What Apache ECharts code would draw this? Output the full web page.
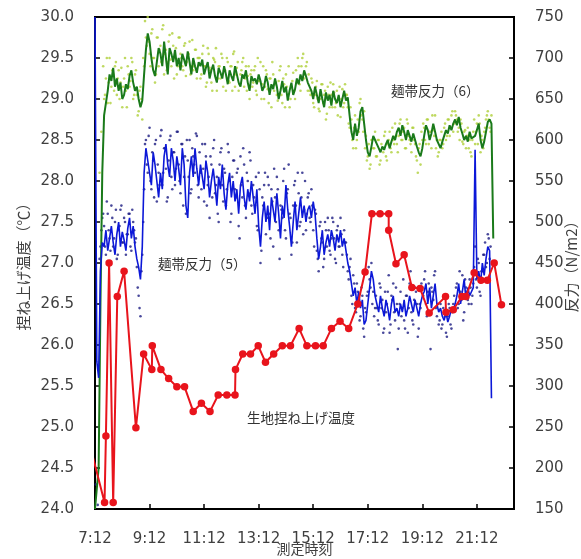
<!doctype html>
<html lang="ja">
<head>
<meta charset="utf-8">
<title>測定時刻と麺帯反力・捏ね上げ温度</title>
<style>
  html, body { margin: 0; padding: 0; background: #fff; }
  #main { width: 581px; height: 559px; }
</style>
</head>
<body>
<div id="main"></div>
<script src="https://cdn.jsdelivr.net/npm/echarts@6/dist/echarts.min.js"></script>
<script>
// 時刻は 7:12 からの経過分で扱う（7:12 = 432分）
var START_MIN = 432;
var STEP = 4;        // 反力データ：4分おき
var DOT_OFFSET = 2;  // 2組目の測定点は2分ずらす

// 生地捏ね上げ温度（左軸）
var tempTimes = ['7:03', '7:33', '7:36', '7:43', '7:52', '8:01', '8:16', '8:42', '8:59', '9:17',
  '9:18', '9:37', '9:54', '10:12', '10:29', '10:48', '11:06', '11:25', '11:43', '12:02',
  '12:20', '12:21', '12:37', '12:54', '13:11', '13:27', '13:45', '14:04', '14:22', '14:41',
  '14:58', '15:17', '15:34', '15:52', '16:11', '16:30', '16:50', '17:06', '17:21', '17:39',
  '17:58', '17:58', '18:14', '18:32', '18:49', '19:07', '19:27', '20:03', '20:04', '20:20',
  '20:39', '20:48', '21:06', '21:21', '21:35', '21:50', '22:06'];
var tempValues = [24.73, 24.08, 24.89, 27.0, 24.08, 26.59, 26.9, 24.99, 25.89, 25.7,
  25.99, 25.7, 25.59, 25.49, 25.49, 25.19, 25.29, 25.19, 25.39, 25.39,
  25.39, 25.7, 25.89, 25.89, 25.99, 25.79, 25.89, 25.99, 25.99, 26.2,
  25.99, 25.99, 25.99, 26.2, 26.29, 26.2, 26.5, 26.89, 27.6, 27.6,
  27.6, 27.4, 26.99, 27.1, 26.7, 26.69, 26.39, 26.59, 26.4, 26.43,
  26.59, 26.59, 26.88, 26.79, 26.79, 27.0, 26.49];

// 麺帯反力（5）線（右軸）
var force5Line = [750, 330, 310, 440, 475,
  470, 490, 465, 480, 495, 475, 460, 485, 500, 470, 488, 478, 465, 492, 505, 480, 495, 470, 455,
  445, 430, 470, 560,
  590, 575, 560, 545, 585, 570, 550, 530, 560, 540, 580, 595, 570, 555, 590, 575, 550, 580, 565, 545,
  590, 570, 520, 505, 560, 580, 555, 590, 565, 545,
  570, 555, 540, 575, 560, 530, 550, 565, 545, 520, 555, 540, 570, 535, 515, 545, 560, 530, 550, 525,
  540, 510, 545, 555, 530, 515, 540, 525, 550, 530,
  510, 540, 495, 470, 505, 525, 500, 520, 490, 530, 515, 500, 535, 510, 480, 520, 505, 545, 515, 495,
  470, 500, 525, 490, 510, 530, 505, 520, 500, 515,
  520, 505, 525, 510, 480, 455, 470, 490, 460, 475, 485, 470, 490, 480, 465, 485, 475, 490, 470, 480,
  465, 450,
  440, 425, 410, 420, 400, 415, 395, 405,
  375, 380, 400, 420, 440, 430, 410,
  400, 390, 410, 395, 385, 405, 395, 380, 400, 410, 390, 395, 385, 400, 390, 405, 385, 395, 410, 400,
  390, 405, 395, 385, 400, 410,
  415, 425, 400, 420, 395, 410, 425, 400, 390, 395,
  385, 380, 390, 378, 385, 395, 390, 400,
  410, 425, 400, 415, 430, 405, 420, 410, 415,
  420, 588, 430,
  440, 425, 450, 435, 455,
  470, 465, 285];

// 麺帯反力（5）測定点：線と同じ時刻
var force5DotsA = [null, null, null, 470, 505,
  495, 460, 510, 480, 520, 470, 500, 455, 490, 515, 475, 505, 460, 485, 510, 465, 500, 475, 445,
  410, 385, 460, 540,
  600, 560, 615, 540, 575, 595, 525, 560, 605, 545, 590, 565, 530, 600, 555, 585, 545, 610, 570, 535,
  595, 555, 510, 575, 600, 540, 580, 560, 605, 530,
  560, 595, 525, 580, 545, 505, 570, 590, 535, 555, 500, 585, 545, 565, 520, 595, 550, 510, 575, 540,
  560, 495, 580, 530, 570, 505, 550, 585, 520, 545,
  520, 495, 560, 450, 530, 545, 485, 555, 510, 540, 470, 530, 555, 490, 520, 505, 565, 480, 540, 510,
  460, 520, 550, 475, 535, 500, 560, 515, 490, 530,
  505, 540, 490, 515, 465, 440, 500, 475, 455, 490, 505, 465, 480, 500, 455, 490, 470, 505, 460, 490,
  475, 440,
  445, 410, 435, 395, 425, 405, 385, 410,
  360, 390, 415, 430, 450, 415, 395,
  395, 375, 420, 405, 370, 390, 415, 365, 410, 425, 380, 400, 370, 415, 395, 380, 410, 365, 425, 390,
  375, 420, 400, 370, 395, 420,
  430, 400, 415, 390, 420, 405, 440, 385, 375, 400,
  375, 390, 365, 385, 395, 370, 400, 395,
  425, 400, 415, 435, 390, 420, 405, 430, 400,
  425, 470, 420,
  450, 410, 440, 460, 445,
  485, 455, null];

// 麺帯反力（5）測定点：2分ずらし
var force5DotsB = [180, 155, 455, 490,
  510, 470, 525, 490, 465, 505, 480, 515, 460, 495, 520, 475, 500, 485, 510, 470, 515, 490, 480,
  420, 395, 440, 500, 595, 570,
  605, 550, 585, 530, 600, 570, 545, 612, 560, 590, 525, 575, 605, 540, 585, 565, 610, 550, 595, 520,
  580, 600, 555, 535, 590, 570, 608, 545,
  585, 540, 565, 595, 520, 555, 580, 530, 600, 545, 510, 570, 590, 525, 560, 540, 585, 500, 555, 575,
  530, 565, 480, 545, 590, 520, 560, 535, 575, 510,
  530, 555, 490, 540, 465, 520, 560, 505, 545, 480, 525, 565, 500, 540, 455, 515, 550, 490, 535, 570,
  505, 475, 545, 520, 560, 495, 530, 485, 550, 510,
  535, 500, 520, 470, 510, 455, 495, 480, 445, 500, 470, 490, 460, 505, 480, 450, 495, 470, 485, 445,
  475, 460,
  430, 455, 400, 425, 390, 415, 380, 420,
  370, 395, 410, 445, 420, 400, 385,
  410, 380, 425, 395, 365, 415, 400, 435, 375, 405, 390, 420, 345, 400, 385, 430, 370, 410, 395, 440,
  380, 405, 415, 360, 400, 425,
  410, 440, 385, 425, 345, 415, 435, 395, 400, 380,
  370, 395, 385, 360, 400, 375, 390, 410,
  420, 395, 440, 405, 380, 430, 415, 400, 420,
  410, 445, 430, 455, 415, 440, 460, 475, 450, 480, 470];

// 麺帯反力（6）線
var force6Line = [150, 150, 200, 400, 560, 630, 645,
  660, 680, 672, 688, 665, 675, 660, 670, 650, 655, 668, 662, 678, 685, 670, 660, 665,
  650, 640, 648, 680, 710, 730, 720, 700,
  685, 678, 695, 712, 705, 690, 720, 700, 680, 712, 705, 695, 710, 690, 700, 685, 705, 698, 690, 708,
  695, 680, 700, 690, 682, 695,
  690, 698, 680, 688, 695, 675, 685, 692, 678, 670, 688, 682, 675, 690, 680, 668, 685, 678, 672, 690,
  680, 670, 665, 680, 675, 685, 670, 660, 678, 672,
  675, 668, 680, 672, 660, 665, 678, 670, 655, 668, 662, 675, 665, 650, 660, 672, 658, 665, 648, 660,
  670, 655, 662, 675, 668, 680, 672, 685, 678, 670,
  668, 660, 650, 665, 655, 645, 662, 650, 640, 658, 648, 655, 642, 660, 650, 645, 655, 640, 650, 660,
  648, 652,
  630, 610, 600, 620, 605, 615, 635, 640,
  620, 600, 585, 580, 592, 605, 600, 595,
  590, 585, 592, 588, 595, 600, 590, 598, 605, 600, 610, 615, 605, 618, 610,
  600, 612, 605, 598, 608, 600, 592, 585, 580, 590,
  605, 618, 612, 600, 608, 620, 610, 600, 595, 590,
  598, 605, 612, 608, 618, 612, 620, 625, 618, 628,
  615, 608, 600, 605, 598, 610, 602, 600,
  605, 612, 620, 600, 590, 598, 610, 622, 625, 620,
  480];

// 麺帯反力（6）測定点：線と同じ時刻（null は点なし）
var force6DotsA = [null, null, null, null, null, 650, 675,
  645, 700, 665, 680, 690, 655, 685, 670, 640, 675, 660, 690, 665, 700, 650, 680, 655,
  635, 665, 625, 690, 725, 750, 705, 730,
  700, 670, 725, 690, 715, 735, 680, 710, 695, 728, 690, 715, 700, 680, 725, 705, 690, 715, 678, 700,
  720, 690, 685, 710, 675, 700,
  675, 705, 690, 665, 712, 688, 670, 700, 695, 660, 690, 675, 700, 685, 660, 695, 670, 690, 705, 665,
  688, 660, 680, 695, 665, 690, 678, 650, 685, 670,
  690, 655, 672, 695, 668, 650, 685, 662, 675, 640, 680, 668, 655, 672, 690, 645, 668, 680, 655, 640,
  665, 682, 650, 670, 690, 660, 700, 675, 690, 660,
  660, 675, 645, 655, 672, 638, 650, 668, 655, 625, 665, 640, 655, 668, 640, 660, 650, 628, 662, 645,
  655, 640,
  615, 625, 590, 630, 600, 610, 650, 625,
  635, 605, 580, 565, 600, 590, 610, 580,
  600, 575, 590, 605, 580, 595, 610, 585, 600, 620, 595, 605, 625, 600, 615,
  590, 620, 600, 585, 615, 595, 575, 590, 570, 600,
  615, 595, 625, 610, 590, 612, 630, 600, 585, 600,
  590, 615, 600, 625, 605, 630, 610, 635, 625, 615,
  625, 598, 610, 590, 615, 600, 580, 610,
  595, 620, 630, 585, 600, 610, 625, 635, 615, 630,
  null];

// 麺帯反力（6）測定点：2分ずらし
var force6DotsB = [null, null, 560, 610,
  690, 655, 700, 670, 645, 685, 660, 695, 675, 650, 688, 665, 700, 640, 680, 672, 695, 655, 685,
  630, 660, 650, 700, 745, 715,
  720, 690, 735, 700, 680, 725, 710, 695, 740, 705, 685, 720, 698, 730, 675, 712, 690, 725, 700, 685,
  718, 695, 705, 680, 722, 690, 710, 700,
  700, 680, 715, 690, 670, 705, 685, 660, 698, 712, 675, 690, 705, 665, 685, 700, 672, 690, 660, 708,
  680, 695, 668, 685, 700, 675, 660, 690, 680, 665,
  685, 660, 700, 672, 650, 690, 665, 680, 645, 675, 695, 660, 670, 648, 685, 655, 675, 640, 665, 690,
  650, 672, 660, 685, 700, 668, 690, 705, 680, 695,
  680, 655, 670, 640, 665, 650, 635, 668, 645, 660, 632, 655, 670, 640, 658, 645, 630, 665, 650, 640,
  668, 655,
  620, 640, 600, 615, 590, 625, 645, 630,
  610, 590, 575, 595, 570, 600, 590,
  580, 600, 570, 595, 585, 610, 575, 600, 590, 615, 595, 605, 585, 620, 600, 610, 590, 625, 605, 595,
  615, 600, 580, 560, 595, 610,
  620, 600, 625, 595, 610, 630, 605, 590, 580, 600,
  610, 595, 620, 605, 625, 615, 635, 620,
  630, 610, 600, 620, 595, 612, 605, 590, 585,
  600, 625, 610, 595, 620, 605, 590, 615, 630, 625, 610];

function toMin(s) {
  var p = s.split(':');
  return (+p[0]) * 60 + (+p[1]) - START_MIN;
}
function fmtClock(v) {
  if (v > 900) return '';
  var t = START_MIN + v;
  var h = Math.floor(t / 60 + 1e-9);
  var m = Math.round(t - h * 60);
  return h + ':' + (m < 10 ? '0' + m : m);
}
function series(values, offset) {
  var out = [];
  for (var i = 0; i < values.length; i++) {
    if (values[i] == null) continue;
    out.push([offset + i * STEP, values[i]]);
  }
  return out;
}

var tempData = tempTimes.map(function (t, i) {
  var d = { value: [toMin(t), tempValues[i]] };
  if (i === 0) d.symbol = 'none';
  return d;
});

var labelFont = { fontFamily: 'DejaVu Sans', fontSize: 15, color: '#404040' };
var jpFont = 'Noto Sans CJK JP';

var myChart = echarts.init(document.getElementById('main'));

option = {
  animation: false,
  backgroundColor: '#fff',
  grid: {
    left: 95, right: 67, top: 17, bottom: 50,
    outerBoundsMode: 'none',
    containLabel: false,
    show: true, borderColor: '#000', borderWidth: 2
  },
  xAxis: {
    type: 'value',
    min: 0, max: 921.6, interval: 120,
    name: '測定時刻',
    nameLocation: 'middle',
    nameGap: 33,
    nameMoveOverlap: false,
    nameTextStyle: { fontFamily: jpFont, fontSize: 14, color: '#404040' },
    axisLine: { lineStyle: { color: '#000', width: 2 } },
    axisTick: { inside: true, length: 5, lineStyle: { color: '#000', width: 1.5 } },
    axisLabel: Object.assign({ margin: 23, formatter: fmtClock, showMaxLabel: false }, labelFont),
    splitLine: { show: false }
  },
  yAxis: [
    {
      type: 'value',
      min: 24, max: 30, interval: 0.5,
      name: '捏ね上げ温度（℃）',
      nameLocation: 'middle',
      nameRotate: 90,
      nameGap: 64,
      nameMoveOverlap: false,
      nameTextStyle: { fontFamily: jpFont, fontSize: 15, color: '#404040' },
      axisLine: { show: true, lineStyle: { color: '#000', width: 2 } },
      axisTick: { show: true, inside: true, length: 5, lineStyle: { color: '#000', width: 1.5 } },
      axisLabel: Object.assign({ margin: 21, formatter: function (v) { return v.toFixed(1); } }, labelFont),
      splitLine: { show: false }
    },
    {
      type: 'value',
      min: 150, max: 750, interval: 50,
      name: '反力（N/m2）',
      nameLocation: 'middle',
      nameRotate: 90,
      nameGap: 50,
      nameMoveOverlap: false,
      nameTextStyle: { fontFamily: jpFont, fontSize: 15, color: '#404040' },
      axisLine: { show: true, lineStyle: { color: '#000', width: 2 } },
      axisTick: { show: true, inside: true, length: 5, lineStyle: { color: '#000', width: 1.5 } },
      axisLabel: Object.assign({ margin: 21 }, labelFont),
      splitLine: { show: false }
    }
  ],
  graphic: [
    { type: 'text', left: 391, top: 84, style: { text: '麺帯反力（6）', font: '13.5px "' + jpFont + '"', fill: '#333' } },
    { type: 'text', left: 158, top: 257, style: { text: '麺帯反力（5）', font: '13.5px "' + jpFont + '"', fill: '#333' } },
    { type: 'text', left: 247, top: 411, style: { text: '生地捏ね上げ温度', font: '13.5px "' + jpFont + '"', fill: '#333' } }
  ],
  series: [
    {
      type: 'scatter', yAxisIndex: 1,
      symbolSize: 2.6,
      itemStyle: { color: '#afcf3a' },
      data: series(force6DotsA, 0).concat(series(force6DotsB, DOT_OFFSET))
    },
    {
      type: 'scatter', yAxisIndex: 1,
      symbolSize: 2.6,
      itemStyle: { color: '#1c1c82' },
      data: series(force5DotsA, 0).concat(series(force5DotsB, DOT_OFFSET))
    },
    {
      type: 'line', yAxisIndex: 1,
      showSymbol: false,
      lineStyle: { color: '#1a7a1a', width: 2 },
      itemStyle: { color: '#1a7a1a' },
      data: series(force6Line, 0)
    },
    {
      type: 'line', yAxisIndex: 1,
      showSymbol: false,
      lineStyle: { color: '#0c18d8', width: 1.6 },
      itemStyle: { color: '#0c18d8' },
      data: series(force5Line, 0)
    },
    {
      type: 'line', yAxisIndex: 0,
      clip: false,
      symbol: 'circle', symbolSize: 7.5,
      lineStyle: { color: '#e8141c', width: 2 },
      itemStyle: { color: '#e8141c' },
      data: tempData
    }
  ]
};

myChart.setOption(option);
</script>
</body>
</html>
